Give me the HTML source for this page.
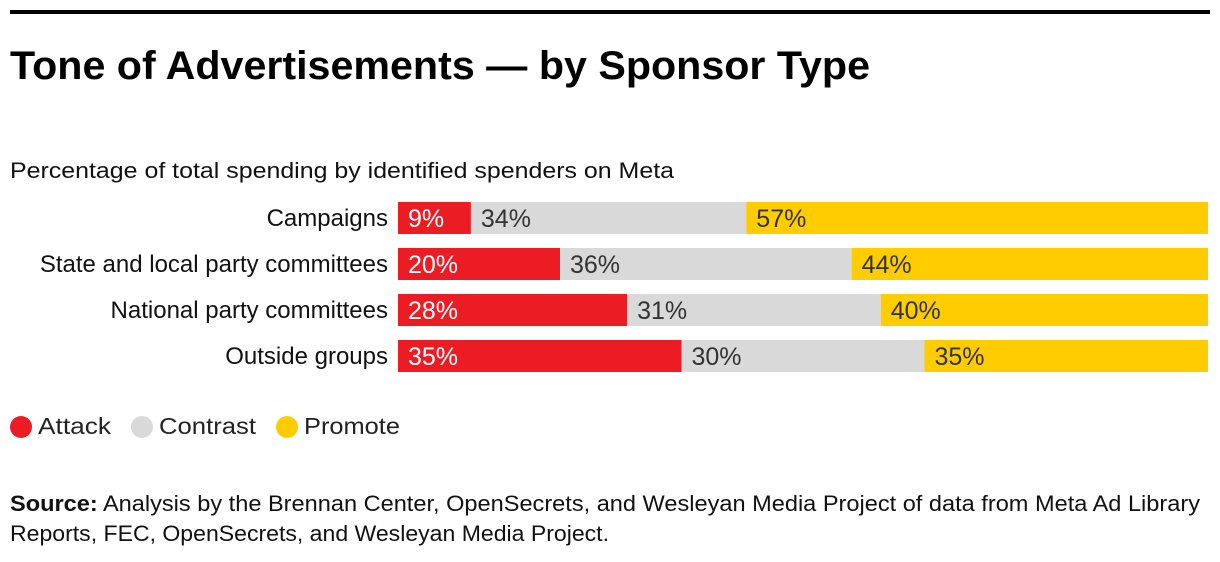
<!DOCTYPE html>
<html><head><meta charset="utf-8"><style>
body{margin:0;background:#fff;}
svg{display:block;font-family:"Liberation Sans",Arial,sans-serif;}
</style></head><body>
<svg id="chart" width="1220" height="562" viewBox="0 0 1220 562">
<rect x="10" y="10" width="1200" height="4" fill="#000"/>
<text x="10" y="79" font-size="40" font-weight="bold" textLength="860" lengthAdjust="spacingAndGlyphs">Tone of Advertisements — by Sponsor Type</text>
<text x="10" y="178" font-size="22" textLength="664" lengthAdjust="spacingAndGlyphs" fill="#111">Percentage of total spending by identified spenders on Meta</text>
<g id="bars"></g>
<g>
<g><circle cx="21" cy="427" r="11" fill="#ec1c24"/><text x="38" y="434" font-size="23" fill="#222" textLength="73" lengthAdjust="spacingAndGlyphs">Attack</text></g>
<g><circle cx="142" cy="427" r="11" fill="#d9d9d9"/><text x="159" y="434" font-size="23" fill="#222" textLength="97" lengthAdjust="spacingAndGlyphs">Contrast</text></g>
<g><circle cx="287" cy="427" r="11" fill="#ffcc00"/><text x="304" y="434" font-size="23" fill="#222" textLength="96" lengthAdjust="spacingAndGlyphs">Promote</text></g>
</g>
<text font-size="22" fill="#111"><tspan x="10" y="511" textLength="1190" lengthAdjust="spacingAndGlyphs"><tspan font-weight="bold">Source:</tspan> Analysis by the Brennan Center, OpenSecrets, and Wesleyan Media Project of data from Meta Ad Library</tspan><tspan x="10" y="541" textLength="599" lengthAdjust="spacingAndGlyphs">Reports, FEC, OpenSecrets, and Wesleyan Media Project.</tspan></text>
</svg>
<script>
const categories = ["Campaigns","State and local party committees","National party committees","Outside groups"];
const attack = [9,20,28,35];
const contrast = [34,36,31,30];
const promote = [57,44,40,35];
const series = [
  {name:"attack", vals:attack, color:"#ec1c24", text:"#fff"},
  {name:"contrast", vals:contrast, color:"#d9d9d9", text:"#333"},
  {name:"promote", vals:promote, color:"#ffcc00", text:"#333"}
];
const NS="http://www.w3.org/2000/svg";
const x0=398, x1=1208, yTop=202, rowStep=46, barH=32;
const g=document.getElementById('bars');
function xScale(frac){return x0+frac*(x1-x0);}
categories.forEach((cat,i)=>{
  const y=yTop+i*rowStep;
  const total=attack[i]+contrast[i]+promote[i];
  const lab=document.createElementNS(NS,'text');
  
  
  lab.setAttribute('x',388);lab.setAttribute('y',y+24);
  lab.setAttribute('text-anchor','end');lab.setAttribute('font-size','24');lab.setAttribute('fill','#111');
  lab.textContent=cat;g.appendChild(lab);
  let cum=0;
  series.forEach(s=>{
    const v=s.vals[i];
    const xa=xScale(cum/total), xb=xScale((cum+v)/total);
    const r=document.createElementNS(NS,'rect');
    
    
    r.setAttribute('x',xa);r.setAttribute('y',y);r.setAttribute('width',xb-xa);r.setAttribute('height',barH);r.setAttribute('fill',s.color);
    g.appendChild(r);
    const t=document.createElementNS(NS,'text');
    
    
    t.setAttribute('x',xa+10);t.setAttribute('y',y+25);t.setAttribute('font-size','25');t.setAttribute('font-weight','500');t.setAttribute('fill',s.text);
    t.textContent=v+'%';g.appendChild(t);
    cum+=v;
  });
});
</script>
</body></html>
